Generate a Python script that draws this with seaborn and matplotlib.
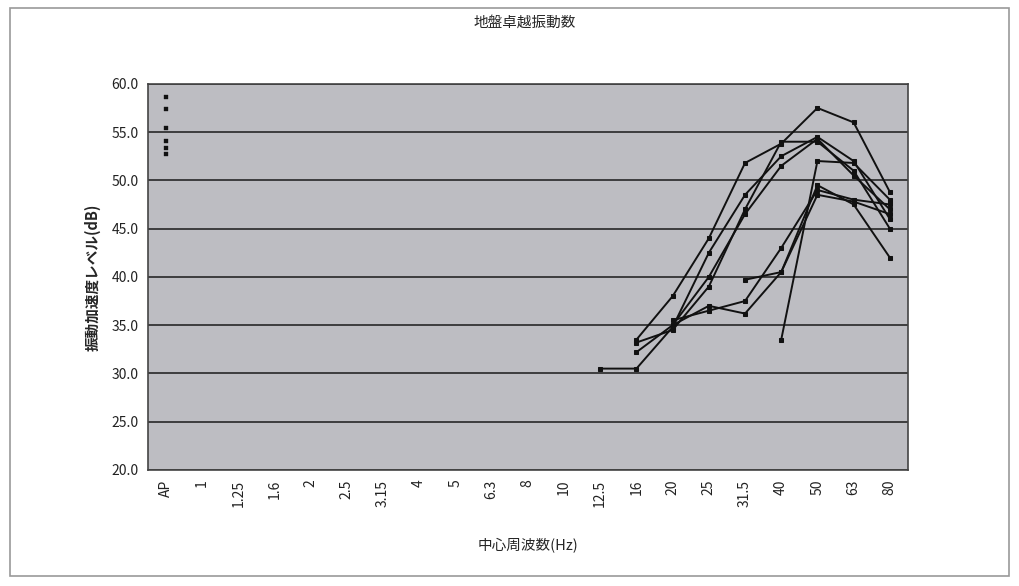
import matplotlib
matplotlib.use("Agg")
import matplotlib.pyplot as plt
import matplotlib.patches as patches
import numpy as np
import pandas as pd
import seaborn as sns

categories = ["AP", "1", "1.25", "1.6", "2", "2.5", "3.15", "4", "5", "6.3", "8",
              "10", "12.5", "16", "20", "25", "31.5", "40", "50", "63", "80"]

# Band values for 12.5 .. 80 Hz (None = no data)
band_labels = ["12.5", "16", "20", "25", "31.5", "40", "50", "63", "80"]
s1 = [None, 33.5, 38.0, 44.0, 51.8, 53.8, 57.5, 56.0, 48.8]
s2 = [30.5, 30.5, 34.8, 42.5, 48.5, 52.5, 54.5, 52.0, 46.0]
s3 = [None, 32.2, 35.0, 40.0, 46.5, 51.5, 54.3, 50.5, 47.0]
s4 = [None, 33.2, 34.5, 39.0, 47.0, 54.0, 54.0, 51.0, 45.0]
s5 = [None, None, 35.0, 37.0, 36.2, 40.5, 48.5, 47.8, 46.5]
s6 = [None, None, 35.5, 36.5, 37.5, 43.0, 49.0, 48.0, 47.5]
s7 = [None, None, None, None, 39.7, 40.5, 49.5, 47.5, 42.0]
s8 = [None, None, None, None, None, 33.5, 52.0, 51.8, 48.0]
series = [s1, s2, s3, s4, s5, s6, s7, s8]

# AP (overall) values shown as isolated markers
ap_values = [58.6, 57.4, 55.4, 54.1, 53.4, 52.7]

yticks = [20, 25, 30, 35, 40, 45, 50, 55, 60]

rows = []
for k, s in enumerate(series):
    for lab, v in zip(band_labels, s):
        if v is not None:
            rows.append({"series": f"s{k+1}", "idx": categories.index(lab), "val": v})
df = pd.DataFrame(rows)
ap_df = pd.DataFrame({"idx": [categories.index("AP")] * len(ap_values), "val": ap_values})

sns.set_theme(style="white")
plt.rcParams["font.family"] = ["Noto Sans CJK JP", "DejaVu Sans"]

fig = plt.figure(figsize=(10.19, 5.86), dpi=100)
fig.patch.set_facecolor("white")
ax = fig.add_axes([0.145, 0.198, 0.746, 0.659])
ax.set_facecolor("#bdbdc2")

for y in yticks:
    ax.axhline(y, color="#1a1a1a", lw=1.1, zorder=1)

sns.lineplot(data=df, x="idx", y="val", units="series", estimator=None,
             color="#111111", lw=1.4, marker="s", markersize=3,
             markeredgecolor="#111111", ax=ax, legend=False, zorder=3, sort=False)
sns.scatterplot(data=ap_df, x="idx", y="val", color="#111111", marker="s", s=10,
                edgecolor="#111111", ax=ax, legend=False, zorder=3)

ax.set_xlim(-0.5, len(categories) - 0.5)
ax.set_ylim(20, 60)
ax.set_xticks(range(len(categories)))
ax.set_xticklabels(categories, rotation=90, fontsize=10)
ax.set_yticks(yticks)
ax.set_yticklabels([f"{v:.1f}" for v in yticks], fontsize=10)
ax.tick_params(axis="both", direction="out", length=3, width=0.8, colors="#222222")
ax.tick_params(axis="x", pad=4)
for sp in ax.spines.values():
    sp.set_color("#444444")
    sp.set_linewidth(1.2)

ax.set_xlabel("中心周波数(Hz)", fontsize=10.5, labelpad=22)
ax.set_ylabel("振動加速度レベル(dB)", fontsize=10.5, fontweight="bold", labelpad=8)
fig.text(0.515, 0.962, "地盤卓越振動数", ha="center", va="center", fontsize=10.5)

fig.patches.append(patches.Rectangle((0.01, 0.017), 0.98, 0.97, transform=fig.transFigure,
                                     fill=False, edgecolor="#999999", lw=1.2))

fig.savefig("out.png", dpi=100)
